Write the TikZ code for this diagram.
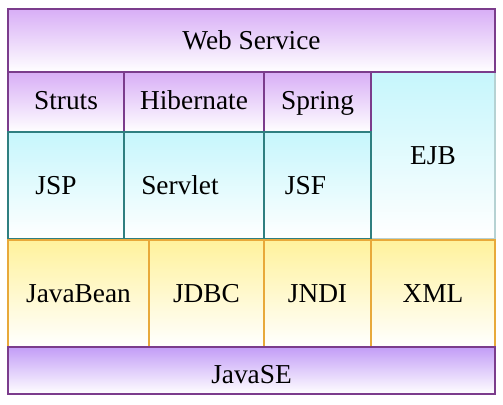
\documentclass[tikz,border=0pt]{standalone}
\usepackage{fontspec}
\setmainfont{Liberation Serif}
\definecolor{purtop}{HTML}{D8AEF6}
\definecolor{purline}{HTML}{7B3C8C}
\definecolor{cyantop}{HTML}{C6F6FC}
\definecolor{cyanline}{HTML}{2F7F80}
\definecolor{yeltop}{HTML}{FFF29C}
\definecolor{yelline}{HTML}{E8A93A}
\begin{document}
\begin{tikzpicture}[x=0.75pt,y=-0.75pt,
  txt/.style={font=\fontsize{20.5}{23}\selectfont, text height=13.5pt, text depth=0pt, inner sep=0pt},
  box/.style 2 args={draw, line width=1.1pt, inner sep=0pt, minimum width=#1*0.75pt, minimum height=#2*0.75pt,
     bottom color=white},
  pur/.style={draw=purline, top color=purtop},
  cya/.style={draw=cyanline, top color=cyantop},
  yel/.style={draw=yelline, top color=yeltop}]
\fill[white] (0,0) rectangle (503,404);
\useasboundingbox (0,0) rectangle (503,404);
% EJB
\node[box={124}{167}, cya, draw=cyanline!35, label={[txt]center:EJB}] (ejb) at (433,155.5) {};
% Web Service
\node[box={487}{63}, pur, label={[txt]center:Web Service}] (ws) at (251.5,40.5) {};
% frameworks
\node[box={116}{60}, pur, label={[txt, yshift=1.5]center:Struts}] (struts) at (66,102) {};
\node[box={140}{60}, pur, label={[txt, yshift=1.5]center:Hibernate}] (hib) at (194,102) {};
\node[box={107}{60}, pur, label={[txt, yshift=1.5]center:Spring}] (spring) at (317.5,102) {};
% web tier
\node[box={116}{107}, cya, label={[txt, xshift=-7.5]center:JSP}] (jsp) at (66,185.5) {};
\node[box={140}{107}, cya, label={[txt, xshift=-10.5]center:Servlet}] (servlet) at (194,185.5) {};
\node[box={107}{107}, cya, label={[txt, xshift=-9]center:JSF}] (jsf) at (317.5,185.5) {};
% bottom row
\node[box={141}{107}, yel, label={[txt]center:JavaBean}] (bean) at (78.5,293.5) {};
\node[box={115}{107}, yel, label={[txt]center:JDBC}] (jdbc) at (206.5,293.5) {};
\node[box={107}{107}, yel, label={[txt]center:JNDI}] (jndi) at (317.5,293.5) {};
\node[box={124}{107}, yel, label={[txt]center:XML}] (xml) at (433,293.5) {};
% JavaSE
\node[box={487}{47}, pur, top color=purtop!90!blue, label={[txt, yshift=-3.2]center:JavaSE}] (se) at (251.5,370.5) {};
\end{tikzpicture}
\end{document}
